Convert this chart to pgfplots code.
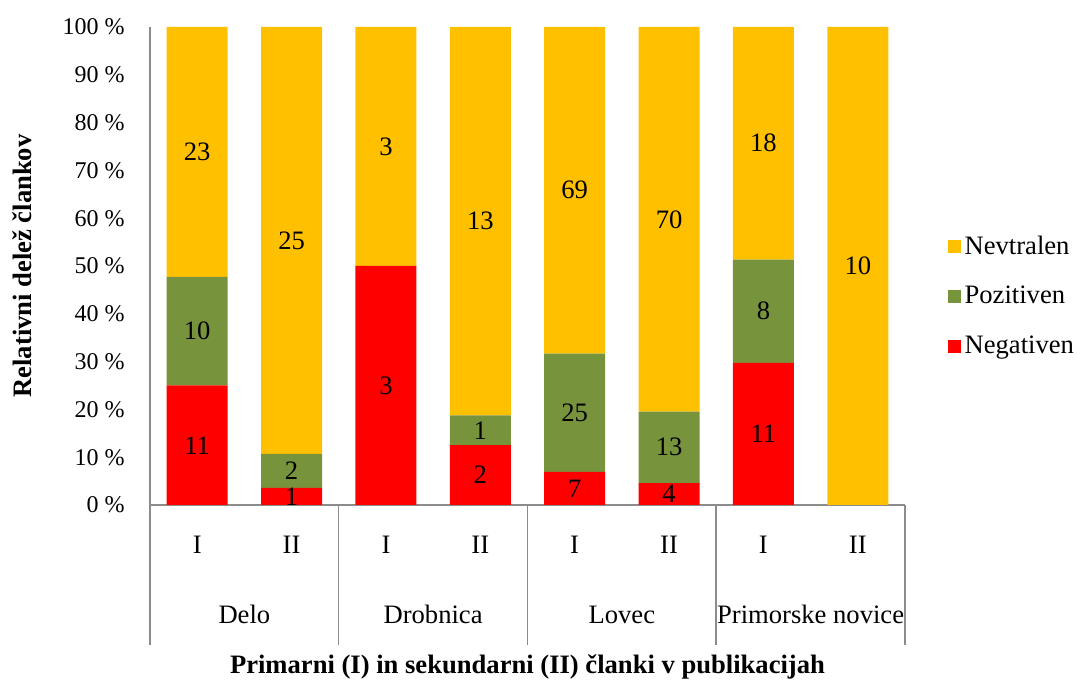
\documentclass[border=0pt,12pt]{standalone}
\usepackage{fontspec}
\setmainfont{Liberation Serif}
\usepackage{pgfplots}
\usepackage{pgfplotstable}
\pgfplotsset{compat=1.18}
\definecolor{nev}{HTML}{FFC000}
\definecolor{poz}{HTML}{77933C}
\definecolor{neg}{HTML}{FF0000}
\definecolor{axc}{HTML}{8C8C8C}
\newcommand{\bigf}{\fontsize{13.3}{15.5}\selectfont}

% shares in percent (counts: Neg / Poz / Nev)
\pgfplotstableread{
x neg poz nev
0 25.000 22.727 52.273
1 3.571 7.143 89.286
2 50.000 0 50.000
3 12.500 6.250 81.250
4 6.931 24.752 68.317
5 4.598 14.943 80.460
6 29.730 21.622 48.649
7 0 0 100
}\shares

\pgfplotsset{sq legend/.style={legend image code/.code={\fill[##1] (-1.5pt,-3.25pt) rectangle (5pt,3.25pt);}}}

\begin{document}
\begin{tikzpicture}[x=1pt,y=1pt,font=\fontsize{12}{14}\selectfont]
\useasboundingbox (0,0) rectangle (538.5,340);
\begin{axis}[
  name=main,
  at={(75pt,87.5pt)}, anchor=south west,
  scale only axis, width=377.5pt, height=239pt,
  ybar stacked, bar width=30.5pt,
  xmin=-0.5, xmax=7.5, ymin=0, ymax=100,
  xtick={0,...,7}, xticklabels={I,II,I,II,I,II,I,II},
  ytick={0,10,...,100},
  yticklabel={\pgfmathprintnumber[assume math mode=true]{\tick}~\%},
  major tick length=0pt,
  axis x line*=bottom, axis y line*=left,
  axis line style={axc, line width=0.75pt},
  xticklabel style={anchor=base, yshift=-24.5pt, font=\bigf},
  yticklabel style={anchor=east, xshift=-8.5pt},
  clip=false,
  legend style={at={(1.048,0.581)}, anchor=north west, draw=none, fill=none,
    row sep=10.25pt, font=\bigf},
  legend cell align=left,
  reverse legend,
]
\addplot[fill=neg, draw=none, sq legend] table[x=x, y=neg] {\shares};
\addplot[fill=poz, draw=none, sq legend] table[x=x, y=poz] {\shares};
\addplot[fill=nev, draw=none, sq legend] table[x=x, y=nev] {\shares};
\legend{Negativen, Pozitiven, Nevtralen}
\foreach \s in {-0.5,1.5,3.5,5.5,7.5}{
  \edef\tmp{\noexpand\draw[axc, line width=0.75pt] (axis cs:\s,0) -- ([yshift=-70pt]axis cs:\s,0);}
  \tmp
}
\node[anchor=base, font=\bigf] at ([yshift=-59.5pt]axis cs:0.5,0) {Delo};
\node[anchor=base, font=\bigf] at ([yshift=-59.5pt]axis cs:2.5,0) {Drobnica};
\node[anchor=base, font=\bigf] at ([yshift=-59.5pt]axis cs:4.5,0) {Lovec};
\node[anchor=base, font=\bigf] at ([yshift=-59.5pt]axis cs:6.5,0) {Primorske novice};
\node[anchor=base, font=\bfseries\bigf] at ([yshift=-84.5pt]rel axis cs:0.5,0) {Primarni (I) in sekundarni (II) članki v publikacijah};
\node[rotate=90, font=\bfseries\bigf] at ([xshift=-64pt]rel axis cs:0,0.5) {Relativni delež člankov};
\end{axis}
\begin{axis}[
  at={(75pt,87.5pt)}, anchor=south west,
  scale only axis, width=377.5pt, height=239pt,
  xmin=-0.5, xmax=7.5, ymin=0, ymax=100,
  hide axis, clip=false,
]
\addplot[only marks, mark=none, nodes near coords, point meta=explicit symbolic,
  nodes near coords align=center,
  every node near coord/.style={anchor=center, text=black, font=\bigf}]
  coordinates {
  (0,12.5) [11] (1,1.786) [1] (2,25) [3] (3,6.25) [2]
  (4,3.465) [7] (5,2.299) [4] (6,14.865) [11]
  (0,36.364) [10] (1,7.143) [2] (3,15.625) [1]
  (4,19.307) [25] (5,12.069) [13] (6,40.541) [8]
  (0,73.864) [23] (1,55.357) [25] (2,75) [3] (3,59.375) [13]
  (4,65.842) [69] (5,59.770) [70] (6,75.676) [18] (7,50) [10]
  };
\end{axis}
\end{tikzpicture}
\end{document}
